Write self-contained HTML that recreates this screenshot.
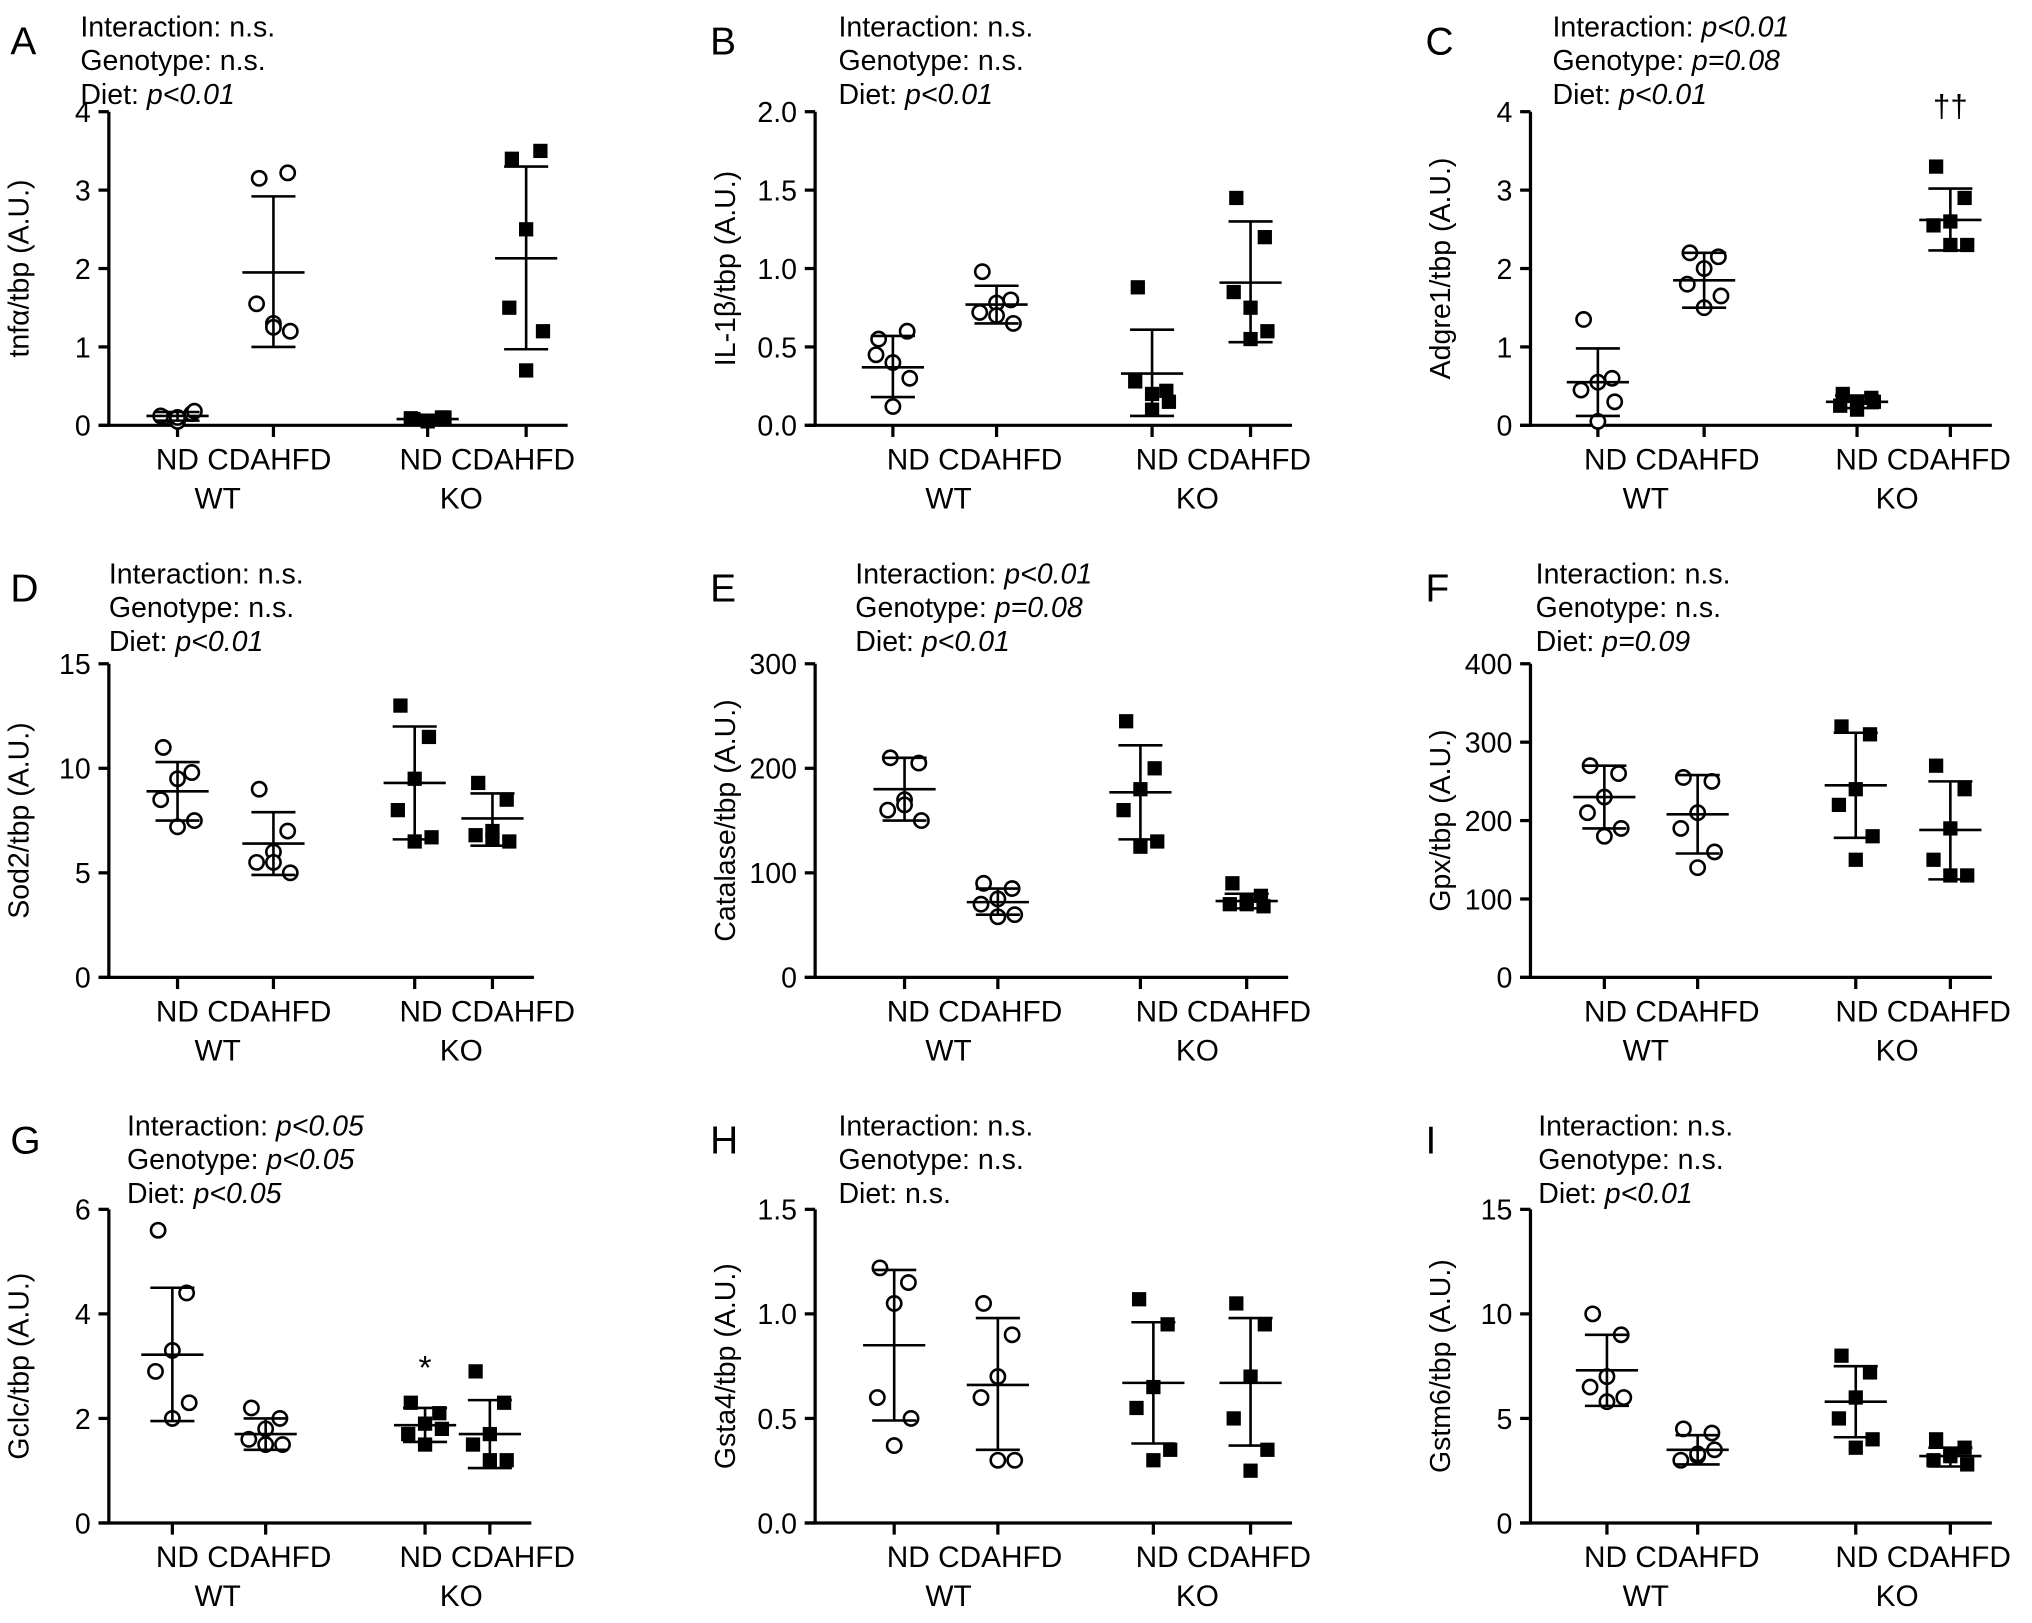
<!DOCTYPE html>
<html><head><meta charset="utf-8">
<style>
html,body{margin:0;padding:0;background:#fff;}
svg{display:block;font-family:"Liberation Sans",sans-serif;}
</style></head>
<body>
<svg id="fig" width="2032" height="1623" viewBox="0 0 1568 1252" xmlns="http://www.w3.org/2000/svg"></svg>
<script>
// ---- data ----
const groupNames = ["WT ND","WT CDAHFD","KO ND","KO CDAHFD"];
const panelLetters = ["A","B","C","D","E","F","G","H","I"];
const yTitles = ["tnfα/tbp (A.U.)","IL-1β/tbp (A.U.)","Adgre1/tbp (A.U.)","Sod2/tbp (A.U.)","Catalase/tbp (A.U.)","Gpx/tbp (A.U.)","Gclc/tbp (A.U.)","Gsta4/tbp (A.U.)","Gstm6/tbp (A.U.)"];
const yMax = [4,2,4,15,300,400,6,1.5,15];
const yTicks = [[0,1,2,3,4],[0,0.5,1,1.5,2],[0,1,2,3,4],[0,5,10,15],[0,100,200,300],[0,100,200,300,400],[0,2,4,6],[0,0.5,1,1.5],[0,5,10,15]];
const yTickLabels = [["0","1","2","3","4"],["0.0","0.5","1.0","1.5","2.0"],["0","1","2","3","4"],["0","5","10","15"],["0","100","200","300"],["0","100","200","300","400"],["0","2","4","6"],["0.0","0.5","1.0","1.5"],["0","5","10","15"]];
const statInteraction = ["n.s.","n.s.","p<0.01","n.s.","p<0.01","n.s.","p<0.05","n.s.","n.s."];
const statGenotype = ["n.s.","n.s.","p=0.08","n.s.","p=0.08","n.s.","p<0.05","n.s.","n.s."];
const statDiet = ["p<0.01","p<0.01","p<0.01","p<0.01","p<0.01","p=0.09","p<0.05","n.s.","p<0.01"];
const pointsA = [[0.1,0.15,0.05,0.12,0.18,0.1],[3.15,3.22,1.3,1.55,1.2,1.25],[0.08,0.1,0.05,0.09,0.1,0.06],[3.4,3.5,2.5,1.5,1.2,0.7]];
const pointsB = [[0.55,0.6,0.4,0.45,0.3,0.12],[0.98,0.8,0.78,0.72,0.65,0.7],[0.88,0.22,0.2,0.28,0.15,0.1],[1.45,1.2,0.75,0.85,0.6,0.55]];
const pointsC = [[1.35,0.6,0.55,0.45,0.3,0.05],[2.2,2.15,2.0,1.8,1.65,1.5],[0.4,0.35,0.3,0.25,0.3,0.2],[3.3,2.9,2.6,2.55,2.3,2.3]];
const pointsD = [[11,9.8,9.5,8.5,7.5,7.2],[9,7,6,5.5,5,5.5],[13,11.5,9.5,8,6.7,6.5],[9.3,8.5,7,6.8,6.5,6.6]];
const pointsE = [[210,205,170,160,150,165],[90,85,75,70,60,58],[245,200,180,160,130,125],[90,78,72,70,68,70]];
const pointsF = [[270,260,230,210,190,180],[255,250,210,190,160,140],[320,310,240,220,180,150],[270,240,190,150,130,130]];
const pointsG = [[5.6,4.4,3.3,2.9,2.3,2.0],[2.2,2.0,1.8,1.6,1.5,1.5],[2.3,2.1,1.9,1.7,1.8,1.5],[2.9,2.3,1.7,1.5,1.2,1.2]];
const pointsH = [[1.22,1.15,1.05,0.6,0.5,0.37],[1.05,0.9,0.7,0.6,0.3,0.3],[1.07,0.95,0.65,0.55,0.35,0.3],[1.05,0.95,0.7,0.5,0.35,0.25]];
const pointsI = [[10,9,7,6.5,6,5.8],[4.5,4.3,3.2,3,3.5,3.3],[8,7.2,6,5,4,3.6],[4,3.6,3.2,3,2.8,3.2]];
const means = [[0.12,1.95,0.08,2.13],[0.37,0.77,0.33,0.91],[0.55,1.85,0.3,2.62],[8.9,6.4,9.3,7.6],[180,72,177,73],[230,208,245,188],[3.22,1.7,1.87,1.7],[0.85,0.66,0.67,0.67],[7.3,3.5,5.8,3.2]];
const sdLow = [[0.06,1.0,0.04,0.97],[0.18,0.65,0.06,0.53],[0.12,1.5,0.22,2.23],[7.5,4.9,6.6,6.3],[150,60,132,66],[190,158,178,125],[1.95,1.4,1.55,1.05],[0.49,0.35,0.38,0.37],[5.6,2.8,4.1,2.7]];
const sdHigh = [[0.17,2.92,0.11,3.3],[0.57,0.89,0.61,1.3],[0.98,2.2,0.38,3.02],[10.3,7.9,12,8.8],[210,85,222,80],[270,258,312,250],[4.5,2.0,2.2,2.35],[1.21,0.98,0.96,0.98],[9,4.2,7.5,3.6]];
const allPoints = [pointsA,pointsB,pointsC,pointsD,pointsE,pointsF,pointsG,pointsH,pointsI];

// ---- layout ----
const colAxis = [84,629,1181];
const rowTop = [86,512,933];
const rowZero = [328,754,1175];
const catOffsets = [[53,127,246,322],[60,140,260,336],[52,134,252,324],[53,127,236,296],[69,141,251,333],[57,129,251,324],[49,121,244,294],[61,141,261,336],[59,129,251,324]];
const labelCenters = [[104,292],[123,315],[109,303]];
const statX = [62,647,1198,84,660,1185,98,647,1187];
const statY0 = [28,450,876];
const jitter = [-11,11,0,-13,13,0];
const NS = "http://www.w3.org/2000/svg";
const svg = document.getElementById('fig');
function mk(tag, attrs, parent){const e=document.createElementNS(NS,tag);for(const k in attrs)e.setAttribute(k,attrs[k]);(parent||svg).appendChild(e);return e;}

for(let p=0;p<9;p++){
  const col=p%3,row=Math.floor(p/3);
  const ax=colAxis[col], top=rowTop[row], zero=rowZero[row];
  const y=v=>zero-(v/yMax[p])*(zero-top);
  const cx=i=>ax+catOffsets[p][i];
  const g=mk('g',{});
  
  
  const L=mk('text',{x:col===0?8:(col===1?548:1100),y:statY0[row]+14,'font-size':30},g);
  L.textContent=panelLetters[p];
  
  
  const labels=["Interaction: ","Genotype: ","Diet: "];
  const vals=[statInteraction[p],statGenotype[p],statDiet[p]];
  for(let k=0;k<3;k++){
    const t=mk('text',{x:statX[p],y:statY0[row]+k*26,'font-size':22},g);
    
    
    t.appendChild(document.createTextNode(labels[k]));
    const s=mk('tspan',{},t);
    if(vals[k]!=="n.s.") s.setAttribute('font-style','italic');
    s.textContent=vals[k];
  }
  const xEnd=ax+catOffsets[p][3]+32;
  const ya=mk('line',{x1:ax,y1:top,x2:ax,y2:zero+1,stroke:'#000','stroke-width':2.5},g);
  
  
  const xa=mk('line',{x1:ax-8,y1:zero,x2:xEnd,y2:zero,stroke:'#000','stroke-width':2.5},g);
  
  
  yTicks[p].forEach((v,i)=>{
    mk('line',{x1:ax-8,y1:y(v),x2:ax,y2:y(v),stroke:'#000','stroke-width':2.5},g);
    const t=mk('text',{x:ax-14,y:y(v)+8,'font-size':22,'text-anchor':'end'},g);
    t.textContent=yTickLabels[p][i];
    
    
  });
  const yt=mk('text',{transform:`translate(${ax-62},${(top+zero)/2}) rotate(-90)`,'font-size':22,'text-anchor':'middle'},g);
  yt.textContent=yTitles[p];
  
  
  for(let i=0;i<4;i++){
    mk('line',{x1:cx(i),y1:zero,x2:cx(i),y2:zero+9,stroke:'#000','stroke-width':2.5},g);
  }
  for(let gi=0;gi<2;gi++){
    const c=ax+labelCenters[col][gi];
    const tl=mk('text',{x:c,y:zero+34,'font-size':23,'text-anchor':'middle'},g);
    tl.textContent="ND CDAHFD";
    
    
    const gl=mk('text',{x:c-20,y:zero+64,'font-size':23,'text-anchor':'middle'},g);
    gl.textContent=gi===0?"WT":"KO";
    
    
  }
  for(let i=0;i<4;i++){
    const x=cx(i);
    const pts=allPoints[p][i];
    pts.forEach((v,j)=>{
      let m;
      if(i<2){m=mk('circle',{cx:x+jitter[j],cy:y(v),r:5.5,fill:'#fff',stroke:'#000','stroke-width':2},g);}
      else{m=mk('rect',{x:x+jitter[j]-5.5,y:y(v)-5.5,width:11,height:11,fill:'#000'},g);}
      
      
    });
    const e=mk('path',{d:`M${x},${y(sdLow[p][i])}V${y(sdHigh[p][i])}M${x-17},${y(sdLow[p][i])}H${x+17}M${x-17},${y(sdHigh[p][i])}H${x+17}M${x-24},${y(means[p][i])}H${x+24}`,stroke:'#000','stroke-width':2,fill:'none'},g);
    
    
  }
  if(p===2){
    const t=mk('text',{x:cx(3),y:90,'font-size':24,'text-anchor':'middle'},g);
    t.textContent="††";
    
    
  }
  if(p===6){
    const t=mk('text',{x:cx(2),y:y(2.75),'font-size':26,'text-anchor':'middle'},g);
    t.textContent="*";
    
    
  }
}
</script>
</body></html>
